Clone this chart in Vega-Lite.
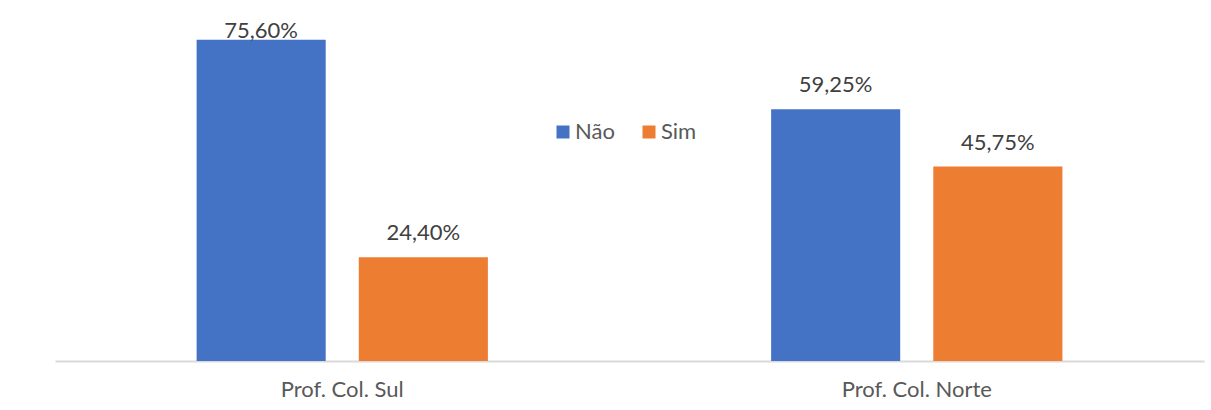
{
  "$schema": "https://vega.github.io/schema/vega-lite/v6.json",
  "autosize": "none",
  "width": 1149,
  "height": 340,
  "padding": {"left": 55, "top": 21, "right": 7, "bottom": 49},
  "background": "white",
  "config": {
    "view": {"stroke": null},
    "font": "Lato"
  },
  "data": {
    "values": [
      {"grupo": "Prof. Col. Sul", "resp": "Não", "valor": 75.60, "rotulo": "75,60%"},
      {"grupo": "Prof. Col. Sul", "resp": "Sim", "valor": 24.40, "rotulo": "24,40%"},
      {"grupo": "Prof. Col. Norte", "resp": "Não", "valor": 59.25, "rotulo": "59,25%"},
      {"grupo": "Prof. Col. Norte", "resp": "Sim", "valor": 45.75, "rotulo": "45,75%"}
    ]
  },
  "encoding": {
    "x": {
      "field": "grupo",
      "type": "nominal",
      "sort": ["Prof. Col. Sul", "Prof. Col. Norte"],
      "scale": {"paddingInner": 0.493, "paddingOuter": 0.2465},
      "axis": {
        "title": null,
        "labelAngle": 0,
        "ticks": false,
        "domainColor": "#d9d9d9",
        "domainWidth": 2,
        "labelColor": "#595959",
        "labelFont": "Lato",
        "labelFontSize": 22,
        "labelPadding": 18
      }
    },
    "xOffset": {
      "field": "resp",
      "type": "nominal",
      "sort": ["Não", "Sim"],
      "scale": {"paddingInner": 0.204, "paddingOuter": 0}
    },
    "y": {
      "field": "valor",
      "type": "quantitative",
      "scale": {"domain": [0, 80], "nice": false},
      "axis": null
    }
  },
  "layer": [
    {
      "mark": {"type": "bar"},
      "encoding": {
        "color": {
          "field": "resp",
          "type": "nominal",
          "scale": {"domain": ["Não", "Sim"], "range": ["#4472C4", "#ED7D31"]},
          "legend": {
            "title": null,
            "orient": "none",
            "legendX": 497,
            "legendY": 100,
            "direction": "horizontal",
            "symbolType": "square",
            "symbolSize": 169,
            "symbolStrokeWidth": 0,
            "labelFont": "Lato",
            "labelFontSize": 22,
            "labelColor": "#595959",
            "labelOffset": 1,
            "columnPadding": 23,
            "padding": 0
          }
        }
      }
    },
    {
      "transform": [{"filter": "datum.valor < 70"}],
      "mark": {"type": "text", "dy": -17, "baseline": "alphabetic", "font": "Lato", "fontSize": 22, "color": "#404040"},
      "encoding": {"text": {"field": "rotulo"}}
    },
    {
      "transform": [{"filter": "datum.valor >= 70"}],
      "mark": {"type": "text", "dy": -2, "baseline": "alphabetic", "font": "Lato", "fontSize": 22, "color": "#404040"},
      "encoding": {"text": {"field": "rotulo"}}
    }
  ]
}
